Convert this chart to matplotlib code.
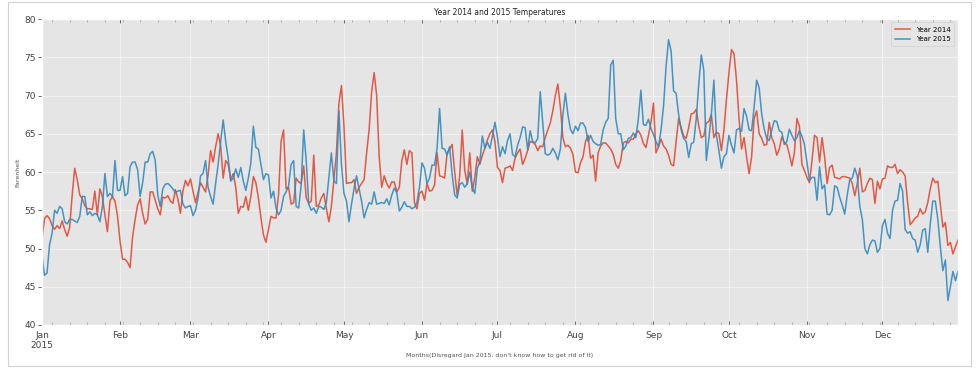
import numpy as np
import pandas as pd
import matplotlib
matplotlib.use('Agg')
import matplotlib.pyplot as plt
import matplotlib.dates as mdates
from matplotlib.patches import Rectangle

# daily mean temperatures, Jan 1 .. Dec 31
temps_2014 = [
    51.3, 53.9, 54.3, 53.9, 53.0, 52.5, 53.0, 52.6, 53.6, 52.5,
    51.6, 52.8, 57.0, 60.5, 59.0, 57.0, 56.5, 55.6, 55.2, 55.2,
    55.1, 57.5, 54.4, 57.8, 56.8, 54.4, 52.2, 56.2, 56.8, 56.2,
    54.3, 51.0, 48.6, 48.6, 48.2, 47.5, 51.5, 53.8, 55.7, 56.5,
    54.6, 53.2, 53.8, 57.4, 57.4, 56.3, 55.2, 54.4, 56.7, 56.6,
    56.9, 56.2, 55.9, 57.7, 56.5, 54.6, 57.5, 58.9, 58.2, 59.1,
    57.5, 56.0, 57.3, 58.6, 58.0, 57.4, 59.6, 62.8, 61.3, 63.3,
    65.0, 63.4, 59.2, 61.5, 61.0, 59.0, 59.8, 58.0, 54.6,
    55.5, 55.4, 56.8, 55.0, 56.8, 59.4, 58.6, 56.6, 54.0, 51.8,
    50.8, 52.5, 54.2, 54.0,
    54.0, 57.0, 64.0, 65.5, 57.8, 58.0,
    55.8, 56.0, 59.2, 58.7, 58.5, 60.8, 56.6, 55.9, 56.2, 62.2,
    55.5, 55.7, 56.6, 57.2, 55.2, 53.5, 55.5, 59.0, 62.5, 69.0,
    71.3, 66.0, 58.5, 58.6, 58.6, 59.0, 57.2, 58.0, 58.5, 59.0,
    62.5, 65.5, 70.5, 73.0, 70.0, 62.0, 58.0, 59.5, 58.5,
    57.9, 58.7, 58.7, 57.4, 58.0, 61.5, 62.9, 61.0, 62.8, 62.5, 56.0,
    55.2, 57.2, 57.5, 56.3, 58.5, 57.5, 57.6, 58.3, 62.5, 59.5,
    59.4, 59.2, 62.5, 63.0, 63.6, 60.0, 56.9, 59.5, 65.5, 60.2,
    58.4, 62.5, 57.5, 59.3, 62.0, 61.0, 62.2, 63.1, 64.2, 65.0,
    65.5, 64.0, 60.6, 60.2, 58.6,
    60.5, 60.6, 60.8, 60.2, 61.8,
    62.5, 63.0, 61.0, 61.8, 62.8, 64.0, 63.9, 63.6, 62.8, 63.4,
    63.3, 64.5, 65.5, 66.4, 68.0, 70.0, 71.5, 68.5, 64.5, 63.3,
    63.5, 63.1, 62.3, 60.0, 59.9, 61.2, 62.0, 64.0, 64.8, 61.8,
    62.2, 58.8, 62.5, 63.4, 63.8, 63.8, 63.4, 63.0, 62.3, 61.0,
    60.5,
    61.5, 63.8, 64.0, 63.8, 64.3, 64.3, 65.0, 65.4, 64.8,
    63.7, 63.2, 64.8, 66.5, 69.0, 62.5, 63.3, 64.3, 63.4, 63.0,
    62.2, 61.0, 60.8, 64.0, 67.0, 65.8, 64.7, 64.4, 65.8, 67.6,
    67.7, 68.2, 66.0, 64.5, 64.7, 66.4, 66.6, 67.5, 64.5, 65.2,
    65.0, 62.8, 65.5, 69.5, 73.0, 76.0,
    75.5, 72.0, 67.0, 63.0, 64.5, 62.0, 59.8, 62.0, 67.0, 68.0, 65.0, 64.4, 63.5,
    63.6, 66.5, 64.5, 63.7, 62.2, 63.0, 64.6, 63.8, 63.6, 62.3,
    60.8, 62.5, 67.0, 66.0, 61.0, 60.2, 59.3, 58.6, 61.5, 64.8,
    64.5, 61.3, 64.5, 62.0, 58.5, 60.6, 60.9, 59.3, 59.2, 59.1,
    59.4, 59.4, 59.3, 59.2,
    58.5, 56.9, 58.5, 60.5, 57.4, 57.6,
    58.5, 59.2, 59.0, 55.9, 58.8, 57.8, 59.1, 59.2, 60.8, 60.6,
    60.6, 61.0, 59.8, 60.3, 60.0, 59.5, 56.0, 53.1, 53.5, 54.0,
    54.2, 55.2, 54.5, 54.8, 56.0, 57.8, 59.2, 58.6, 58.8, 55.8,
    52.8, 53.4, 50.4, 50.8, 49.3, 50.2, 51.1,
]

temps_2015 = [
    49.0, 46.5, 46.8, 50.5, 52.0, 55.0, 54.6, 55.5, 55.2, 53.5,
    53.2, 53.8, 53.8, 53.6, 53.4, 54.2, 56.8, 56.8, 54.4, 54.8,
    54.3, 54.6, 54.4, 53.5, 55.5, 59.8, 56.8, 57.2, 56.8, 61.5,
    57.6, 57.6, 59.4, 56.9, 57.2, 60.7, 61.3, 61.3, 60.3, 56.8,
    58.6, 61.3, 61.3, 62.4, 62.7, 61.5, 57.0,
    55.5, 57.8, 58.4,
    58.5, 58.2, 57.8, 57.3, 57.5, 57.6, 55.8, 55.3, 55.5, 55.6,
    54.3, 55.0, 56.6, 59.5, 59.8, 61.5, 58.0, 56.8, 55.8, 58.5,
    61.0, 64.0, 66.8, 64.0, 61.8, 58.8, 59.2, 60.4, 59.3, 60.6,
    58.8, 57.6, 59.2, 61.2, 66.0, 63.2, 63.0, 61.0, 59.0, 59.8,
    59.6, 56.6,
    57.5, 55.3, 54.4, 55.0, 56.8, 57.4, 58.2,
    61.0, 61.5, 55.5, 55.3, 58.3, 65.5, 61.5, 55.8, 55.0, 55.3,
    54.6, 55.5, 55.4, 55.1, 56.0, 59.2, 62.5, 58.8, 58.5, 68.0,
    61.0, 57.2, 56.2, 53.5, 55.8, 57.8, 59.5, 57.8, 56.2, 54.0,
    55.1, 56.0, 55.8, 57.4, 55.8, 55.9, 56.0, 55.9, 56.5,
    55.7, 57.0, 57.9, 57.3, 54.9, 55.4, 56.1, 55.5, 55.5, 55.2, 55.4,
    56.0, 58.0, 61.2, 60.5, 58.5, 59.2, 60.9, 60.9, 63.1, 68.3,
    63.1, 63.0, 62.2, 63.3, 59.6, 57.0, 56.6, 58.4, 58.6, 58.0,
    58.5, 60.0, 57.9, 57.2, 60.5, 61.3, 64.7, 63.1, 63.9, 63.1,
    64.7, 66.5, 64.6, 62.0, 63.3, 62.4,
    64.1, 65.0, 62.3, 62.0,
    63.5, 64.5, 65.9, 65.8, 62.9, 65.4, 64.0, 63.8, 64.4, 70.5,
    66.5, 62.4, 62.2, 62.4, 63.1, 62.5, 61.6, 63.0, 67.5, 70.3,
    67.5, 65.6, 65.0, 66.0, 65.4, 66.4, 66.4, 65.8, 64.0, 64.8,
    64.0, 63.7, 63.5, 63.6, 65.5, 66.5, 67.0, 74.0, 74.6, 67.0, 65.0,
    65.0, 62.9, 63.4, 64.4, 64.5, 65.1, 64.5, 67.0, 70.7,
    66.2, 66.1, 66.9, 65.7, 64.9, 64.0, 63.3, 65.5, 68.6, 73.8,
    77.3, 75.8, 70.6, 70.3, 67.5, 65.5, 64.4, 64.0, 61.9, 63.7,
    63.9, 67.0, 71.5, 75.3, 73.3, 61.5, 64.3, 67.5, 72.0, 64.8,
    62.8, 60.5, 62.0, 62.4, 64.8, 63.5,
    62.5, 65.5, 65.7, 65.3, 68.3, 67.3, 65.5, 65.4, 68.5, 72.0, 71.0, 67.6, 65.6,
    64.4, 64.1, 65.5, 66.7, 66.6, 65.4, 65.2, 63.6, 64.0, 65.6,
    64.8, 64.1, 64.5, 65.4, 64.7, 63.6, 61.2, 58.9, 59.3, 59.3,
    56.3, 60.7, 57.8, 58.3, 54.5, 54.4, 55.0, 58.2, 58.0, 56.7,
    55.7, 54.5, 57.0, 59.0,
    59.2, 60.5, 59.5, 55.5, 53.8, 50.0,
    49.3, 50.5, 51.1, 51.0, 49.5, 50.0, 53.0, 53.8, 52.0, 51.3,
    55.0, 56.2, 56.3, 58.5, 57.5, 52.5, 52.0, 52.2, 51.3, 51.1,
    49.5, 50.5, 52.4, 52.6, 49.5, 53.2, 56.2, 56.2, 53.8, 50.2,
    47.1, 48.5, 43.2, 45.0, 47.0, 45.8, 47.0,
]

y_ticks = [40, 45, 50, 55, 60, 65, 70, 75, 80]

plt.style.use('ggplot')
plt.rcParams['font.family'] = ['DejaVu Sans']

dates_2014 = pd.date_range('2015-01-01', periods=len(temps_2014), freq='D')
dates_2015 = pd.date_range('2015-01-01', periods=len(temps_2015), freq='D')

fig = plt.figure(figsize=(9.79, 3.73), dpi=100)
fig.patch.set_facecolor('white')
fig.patches.append(Rectangle((0.0082, 0.0188), 0.9836, 0.9758, transform=fig.transFigure,
                             fill=False, edgecolor='#d2d2d2', linewidth=0.8))

ax = fig.add_axes([0.0429, 0.1287, 0.9356, 0.8203])
ax.plot(dates_2014, temps_2014, color='#E24A33', linewidth=1.1, alpha=0.9, label='Year 2014')
ax.plot(dates_2015, temps_2015, color='#348ABD', linewidth=1.1, alpha=0.9, label='Year 2015')

ax.set_xlim(pd.Timestamp('2015-01-01'), pd.Timestamp('2015-12-31'))
ax.set_ylim(40, 80)
ax.set_yticks(y_ticks)

ax.xaxis.set_major_locator(mdates.MonthLocator())
ax.xaxis.set_minor_locator(mdates.WeekdayLocator(byweekday=mdates.MO))


def month_label(x, pos):
    d = mdates.num2date(x)
    if d.month == 1:
        return 'Jan\n2015'
    return d.strftime('%b')


ax.xaxis.set_major_formatter(plt.FuncFormatter(month_label))
ax.tick_params(axis='both', which='major', labelsize=6.5, colors='#555555', length=3, width=0.6)
ax.tick_params(axis='x', which='both', top=True, direction='in', pad=4)
ax.tick_params(axis='x', which='minor', length=2, width=0.5, colors='#999999')
ax.tick_params(axis='y', pad=1.5)
for lab in ax.get_xticklabels() + ax.get_yticklabels():
    lab.set_color('#444444')
ax.grid(True, which='major', color='#f4f4f4', linewidth=0.6)
ax.grid(False, which='minor')

ax.set_title('Year 2014 and 2015 Temperatures', fontsize=5.5, color='#222222', pad=3)
ax.set_xlabel("Months(Disregard Jan 2015, don't know how to get rid of it)", fontsize=4.5,
              color='#555555', labelpad=2)
ax.set_ylabel('Farenheit', fontsize=4.5, color='#555555', labelpad=3)

leg = ax.legend(loc='upper right', fontsize=5, frameon=True, handlelength=2.2,
                borderpad=0.6, labelspacing=0.5)
leg.get_frame().set_facecolor('#E5E5E5')
leg.get_frame().set_edgecolor('#cfcfcf')
leg.get_frame().set_linewidth(0.6)

fig.savefig('out.png', dpi=100, facecolor='white')
